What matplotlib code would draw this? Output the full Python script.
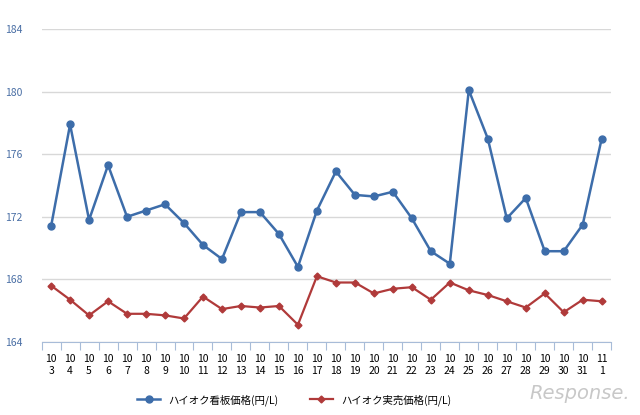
import matplotlib
matplotlib.use("Agg")
import matplotlib.pyplot as plt

months = [10] * 29 + [11]
days = list(range(3, 32)) + [1]
signboard = [171.4, 177.9, 171.8, 175.3, 172.0, 172.4, 172.8, 171.6, 170.2, 169.3,
             172.3, 172.3, 170.9, 168.8, 172.4, 174.9, 173.4, 173.3, 173.6, 171.9,
             169.8, 169.0, 180.1, 177.0, 171.9, 173.2, 169.8, 169.8, 171.5, 177.0]
actual = [167.6, 166.7, 165.7, 166.6, 165.8, 165.8, 165.7, 165.5, 166.9, 166.1,
          166.3, 166.2, 166.3, 165.1, 168.2, 167.8, 167.8, 167.1, 167.4, 167.5,
          166.7, 167.8, 167.3, 167.0, 166.6, 166.2, 167.1, 165.9, 166.7, 166.6]
yticks = [164, 168, 172, 176, 180, 184]

plt.rcParams["font.family"] = "Noto Sans CJK JP"
fig = plt.figure(figsize=(6.4, 4.15), dpi=100)
ax = fig.add_axes([0.065, 0.176, 0.89, 0.754])

x = list(range(len(days)))
ax.plot(x, signboard, color="#3d6daa", lw=1.8, marker="o", ms=5,
        label="ハイオク看板価格(円/L)")
ax.plot(x, actual, color="#b03a3a", lw=1.6, marker="D", ms=3.5,
        label="ハイオク実売価格(円/L)")

ax.set_ylim(164, 184)
ax.set_yticks(yticks)
ax.set_xlim(-0.5, len(days) - 0.5)
# boundary ticks (major, unlabeled) and centred labels (minor)
ax.set_xticks([i - 0.5 for i in range(len(days) + 1)])
ax.set_xticklabels([])
ax.set_xticks(x, minor=True)
ax.set_xticklabels([f"{m}\n{d}" for m, d in zip(months, days)], minor=True,
                   fontsize=7.5, linespacing=1.2)
ax.tick_params(axis="x", which="major", length=6, color="#a8bcd8")
ax.tick_params(axis="x", which="minor", length=0, pad=9)
ax.tick_params(axis="y", length=0, labelsize=7.5, labelcolor="#4a6fa5", pad=14)
ax.grid(axis="y", color="#d8d8d8", lw=1)
ax.set_axisbelow(True)
for s in ["top", "right", "left"]:
    ax.spines[s].set_visible(False)
ax.spines["bottom"].set_color("#a8bcd8")

fig.legend(loc="lower center", bbox_to_anchor=(0.46, 0.0), ncol=2, frameon=False,
           fontsize=7.5, handlelength=2.2, columnspacing=3)
fig.text(0.985, 0.03, "Response.", ha="right", va="bottom", fontsize=14,
         color="#c8c8c8", style="italic", family="DejaVu Sans")

fig.savefig("out.png", dpi=100)
